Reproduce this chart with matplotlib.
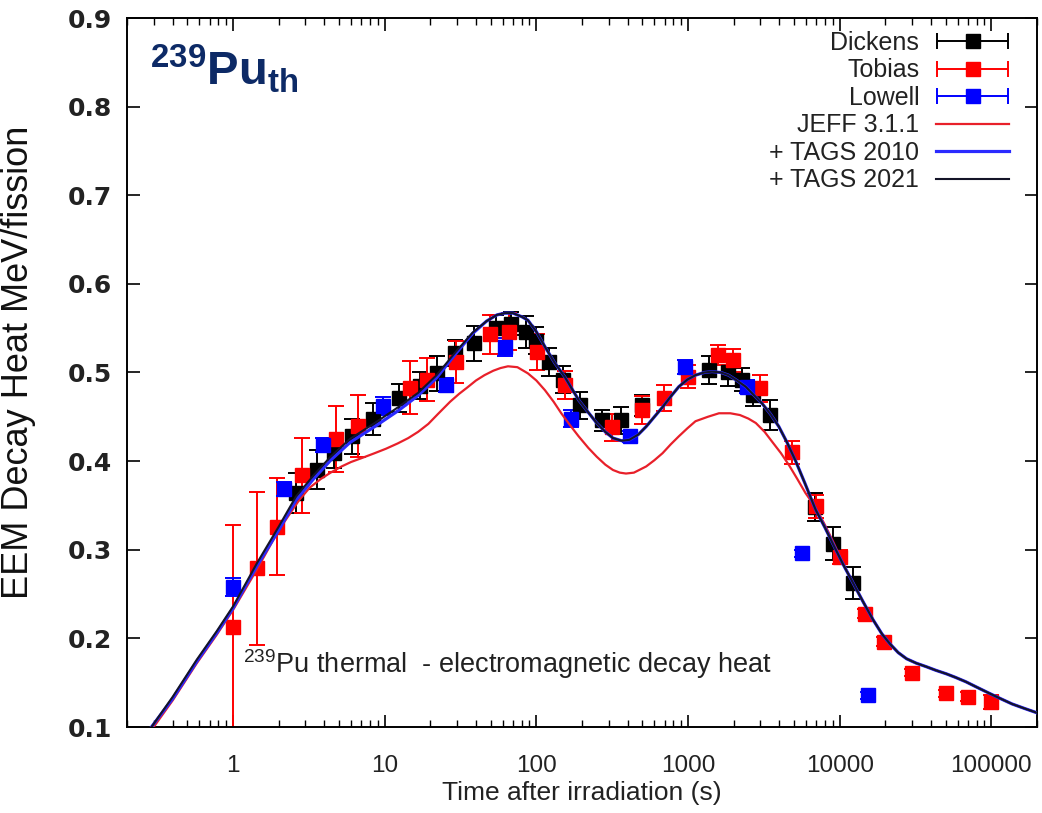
import numpy as np
import matplotlib
matplotlib.use("Agg")
import matplotlib.pyplot as plt
from matplotlib.container import ErrorbarContainer
from matplotlib.legend_handler import HandlerErrorbar

plt.rcParams['font.family'] = ['Liberation Sans', 'DejaVu Sans']
plt.rcParams['mathtext.fontset'] = 'custom'
plt.rcParams['mathtext.rm'] = 'Liberation Sans'
plt.rcParams['mathtext.bf'] = 'Liberation Sans:bold'

# ---------------- data ----------------
dickens_x = [2.6, 3.6, 4.6, 6.1, 8.4, 12.5, 17.2, 22, 29, 39, 54, 68, 85, 100, 122, 150,
             195, 270, 360, 500, 1370, 1830, 2270, 2700, 3480, 6900, 9000, 12300]
dickens_y = [0.364, 0.390, 0.409, 0.428, 0.448, 0.471, 0.485, 0.499, 0.522, 0.533, 0.550,
             0.555, 0.546, 0.536, 0.512, 0.492, 0.463, 0.446, 0.446, 0.463, 0.503, 0.501,
             0.492, 0.475, 0.452, 0.348, 0.307, 0.262]
dickens_err = [0.023, 0.022, 0.017, 0.020, 0.018, 0.016, 0.015, 0.020, 0.015, 0.020, 0.015,
               0.013, 0.018, 0.015, 0.016, 0.015, 0.015, 0.012, 0.015, 0.012, 0.016, 0.016,
               0.013, 0.013, 0.017, 0.016, 0.019, 0.018]

tobias_x = [1.0, 1.44, 1.96, 2.86, 4.76, 6.7, 14.6, 19.1, 29.5, 49.4, 66.5, 101, 154, 313,
            500, 694, 1000, 1570, 1990, 3000, 4850, 6940, 10000, 14700, 19600, 29900,
            50000, 70500, 100000]
tobias_y = [0.213, 0.279, 0.326, 0.384, 0.425, 0.440, 0.483, 0.492, 0.512, 0.543, 0.546,
            0.523, 0.486, 0.438, 0.458, 0.471, 0.495, 0.520, 0.514, 0.482, 0.410, 0.349,
            0.292, 0.228, 0.196, 0.161, 0.138, 0.134, 0.128]
tobias_err = [0.115, 0.086, 0.055, 0.042, 0.037, 0.035, 0.030, 0.024, 0.024, 0.022, 0.021,
              0.020, 0.016, 0.015, 0.016, 0.015, 0.013, 0.011, 0.013, 0.015, 0.013, 0.013,
              0.008, 0.005, 0.005, 0.004, 0.004, 0.005, 0.008]

lowell_x = [1.0, 2.17, 3.92, 9.8, 25.5, 62, 170, 417, 960, 2460, 5650, 15400]
lowell_y = [0.258, 0.369, 0.418, 0.462, 0.486, 0.529, 0.448, 0.428, 0.506, 0.484, 0.296, 0.136]
lowell_err = [0.010, 0.008, 0.008, 0.010, 0.008, 0.010, 0.010, 0.006, 0.008, 0.007, 0.004, 0.004]

tags2021_x = [0.29, 0.40, 0.577, 0.78, 1.0, 1.44, 2.0, 2.6, 3.4, 4.4, 5.9, 8.6, 12.3, 16.6,
              22, 29, 38, 47, 55, 62, 70, 80, 88, 100, 114, 132, 154, 190, 220, 250, 285,
              320, 365, 410, 470, 530, 600, 680, 770, 870, 990, 1120, 1280, 1440, 1650,
              1850, 2100, 2400, 2700, 3080, 3500, 3970, 4500, 5100, 5900, 6950, 8000, 9000,
              10500, 12300, 14300, 16600, 19000, 21400, 24300, 27600, 32000, 37300, 43000,
              50500, 58000, 68000, 80000, 97000, 115000, 137000, 165000, 200000]
tags2021_y = [0.100, 0.134, 0.176, 0.208, 0.236, 0.285, 0.326, 0.360, 0.384, 0.405, 0.425,
              0.443, 0.461, 0.477, 0.497, 0.522, 0.545, 0.558, 0.565, 0.567, 0.567, 0.563,
              0.559, 0.546, 0.529, 0.511, 0.495, 0.469, 0.455, 0.443, 0.433, 0.426, 0.423,
              0.424, 0.430, 0.439, 0.450, 0.461, 0.473, 0.484, 0.492, 0.497, 0.500, 0.501,
              0.500, 0.497, 0.491, 0.484, 0.475, 0.465, 0.453, 0.439, 0.421, 0.401, 0.375,
              0.345, 0.325, 0.307, 0.284, 0.262, 0.241, 0.221, 0.205, 0.194, 0.184, 0.177,
              0.172, 0.168, 0.164, 0.160, 0.156, 0.151, 0.145, 0.138, 0.132, 0.126, 0.121,
              0.116]

tags2010_x = tags2021_x
tags2010_y = [0.100, 0.132, 0.174, 0.206, 0.234, 0.282, 0.322, 0.356, 0.380, 0.401, 0.421,
              0.439, 0.457, 0.474, 0.494, 0.520, 0.544, 0.558, 0.565, 0.567, 0.567, 0.563,
              0.559, 0.546, 0.529, 0.511, 0.495, 0.469, 0.455, 0.443, 0.433, 0.426, 0.423,
              0.424, 0.430, 0.439, 0.450, 0.461, 0.473, 0.484, 0.492, 0.497, 0.500, 0.501,
              0.500, 0.497, 0.491, 0.484, 0.475, 0.465, 0.453, 0.439, 0.421, 0.401, 0.375,
              0.345, 0.325, 0.307, 0.284, 0.262, 0.241, 0.221, 0.205, 0.194, 0.184, 0.177,
              0.172, 0.168, 0.164, 0.160, 0.156, 0.151, 0.145, 0.138, 0.132, 0.126, 0.121,
              0.116]

jeff_x = [0.30, 0.40, 0.577, 0.78, 1.0, 1.44, 2.0, 2.4, 2.73, 3.2, 3.8, 4.4, 5.2, 6.0,
          7.2, 8.6, 10.2, 12.2, 14.3, 16.6, 19.4, 22.4, 27, 31, 35, 40, 45.5, 52, 58, 65,
          75, 88, 100, 114, 130, 146, 166, 190, 220, 250, 285, 320, 355, 390, 440, 530,
          600, 680, 770, 870, 990, 1120, 1350, 1600, 1900, 2200, 2500, 2800, 3200, 3620,
          4100, 4650, 5250, 5950, 6600, 7300, 8100, 9000, 10500, 12300, 14300, 16600,
          19000, 21400, 24300, 27600, 32000, 37300, 43000, 50500, 58000, 68000, 80000,
          97000, 115000, 137000, 165000, 200000]
jeff_y = [0.100, 0.130, 0.172, 0.204, 0.232, 0.278, 0.322, 0.342, 0.356, 0.370, 0.380,
          0.387, 0.394, 0.399, 0.404, 0.409, 0.414, 0.420, 0.426, 0.433, 0.442, 0.453,
          0.467, 0.476, 0.483, 0.491, 0.497, 0.502, 0.505, 0.507, 0.506, 0.499, 0.491,
          0.480, 0.467, 0.454, 0.441, 0.428, 0.415, 0.405, 0.396, 0.390, 0.387, 0.386,
          0.387, 0.394, 0.401, 0.409, 0.419, 0.428, 0.437, 0.445, 0.450, 0.454, 0.454,
          0.452, 0.448, 0.443, 0.433, 0.421, 0.409, 0.395, 0.380, 0.364, 0.353, 0.341,
          0.326, 0.310, 0.285, 0.262, 0.241, 0.221, 0.205, 0.194, 0.184, 0.177, 0.172,
          0.168, 0.164, 0.160, 0.156, 0.151, 0.145, 0.138, 0.132, 0.126, 0.121, 0.116]

xticks = [1, 10, 100, 1000, 10000, 100000]
xtick_labels = ['1', '10', '100', '1000', '10000', '100000']
yticks = [0.1, 0.2, 0.3, 0.4, 0.5, 0.6, 0.7, 0.8, 0.9]

# ---------------- figure ----------------
fig = plt.figure(figsize=(10.42, 8.13), dpi=100)
ax = fig.add_axes([127/1042, 86/813, 910/1042, 709/813])
ax.set_xscale('log')
ax.set_xlim(0.2, 200000)
ax.set_ylim(0.1, 0.9)

ms = 10
cap = 5.5
elw = 1.4
series = [
    (dickens_x, dickens_y, dickens_err, 'black', 'Dickens'),
    (tobias_x, tobias_y, tobias_err, '#ff0000', 'Tobias'),
    (lowell_x, lowell_y, lowell_err, '#0000ff', 'Lowell'),
]
proxies = []
for x, y, e, c, lab in series:
    ax.errorbar(x, y, yerr=e, fmt='s', color=c, ms=ms, capsize=cap, elinewidth=elw,
                capthick=elw, zorder=2)
    p = ax.errorbar([np.nan], [np.nan], xerr=[[1.0]], fmt='s', color=c, ms=ms,
                    capsize=cap, elinewidth=elw, capthick=elw)
    proxies.append(p)

l_jeff, = ax.plot(jeff_x, jeff_y, color='#e8202a', lw=1.6, zorder=3)
l_t10, = ax.plot(tags2010_x, tags2010_y, color='#2a2aff', lw=2.3, zorder=3)
l_t21, = ax.plot(tags2021_x, tags2021_y, color='#141428', lw=1.5, zorder=4)

handles = proxies + [l_jeff, l_t10, l_t21]
labels = ['Dickens', 'Tobias', 'Lowell', 'JEFF 3.1.1', '+ TAGS 2010', '+ TAGS 2021']
leg = ax.legend(handles, labels, loc='upper right', bbox_to_anchor=(0.98, 0.996),
                frameon=False, markerfirst=False, fontsize=18, handlelength=2.9,
                handletextpad=0.68, labelspacing=0.14, borderaxespad=0.0,
                handler_map={ErrorbarContainer: HandlerErrorbar(xerr_size=1.42, numpoints=1)},
                numpoints=1)
for t in leg.get_texts():
    t.set_color('#222222')
leg.get_lines()[4].set_linewidth(1.5) if len(leg.get_lines()) > 4 else None

# ticks
ax.set_xticks(xticks)
ax.set_xticklabels(xtick_labels)
ax.set_yticks(yticks)
ax.set_yticklabels([f'{v:.1f}' for v in yticks])
ax.tick_params(axis='both', which='major', direction='in', length=9, width=1.2,
               top=True, right=True, colors='black')
ax.tick_params(axis='x', which='minor', direction='in', length=5, width=1.0, top=True)
ax.tick_params(axis='y', pad=11)
ax.tick_params(axis='x', pad=20, labelsize=17.5)
for lab in ax.get_yticklabels():
    lab.set_fontsize(18)
    lab.set_family(['DejaVu Sans'])
    lab.set_fontweight('bold')
    lab.set_color('#222222')
for lab in ax.get_xticklabels():
    lab.set_color('#222222')
for s in ax.spines.values():
    s.set_linewidth(1.4)

ax.set_xlabel('Time after irradiation (s)', fontsize=19, color='#222222', labelpad=3)
ax.set_ylabel('EEM Decay Heat MeV/fission', fontsize=26, color='#111111',
              family=['Liberation Sans Narrow', 'Liberation Sans', 'DejaVu Sans'])
ax.yaxis.set_label_coords(-0.10, 0.515)

ax.text(0.025, 0.905, r'$^{\mathbf{239}}\mathbf{Pu}_{\mathbf{th}}$', transform=ax.transAxes,
        fontsize=34, color='#0d2a66', va='baseline', ha='left')
ax.text(0.128, 0.076, r'$^{239}$Pu thermal  - electromagnetic decay heat',
        transform=ax.transAxes, fontsize=19.5, color='#222222', va='baseline', ha='left')

fig.savefig('out.png', dpi=100)
